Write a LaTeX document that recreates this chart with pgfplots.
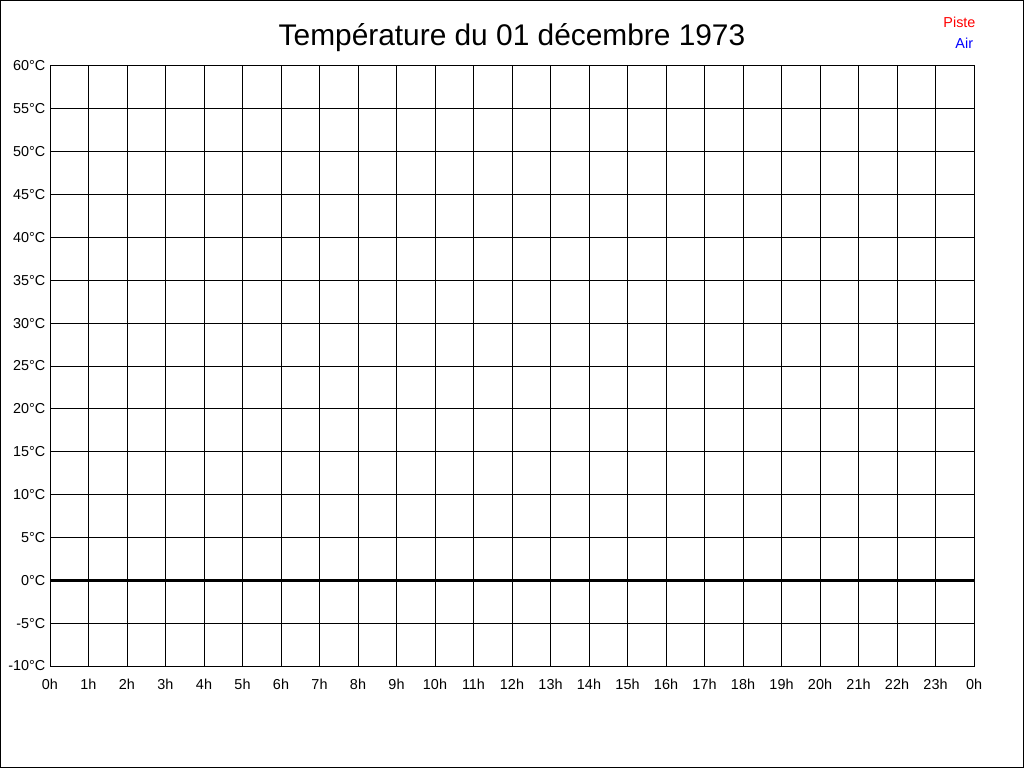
\documentclass[border=0pt]{standalone}
\usepackage{pgfplots}
\pgfplotsset{compat=1.18}
\usepackage{fontspec}
\setmainfont{Liberation Sans}
\begin{document}
\begin{tikzpicture}
\fill[white] (0,0) rectangle (768pt,576pt);
\draw[line width=0.75pt] (0.375pt,0.375pt) rectangle (767.625pt,575.625pt);
\begin{axis}[
  scale only axis,
  width=693pt, height=450pt,
  at={(37.5pt,76.5pt)}, anchor=south west,
  xmin=0, xmax=24, ymin=-10, ymax=60,
  xtick={0,1,...,24},
  xticklabels={0h,1h,2h,3h,4h,5h,6h,7h,8h,9h,10h,11h,12h,13h,14h,15h,16h,17h,18h,19h,20h,21h,22h,23h,0h},
  ytick={-10,-5,...,60},
  yticklabels={-10°C,-5°C,0°C,5°C,10°C,15°C,20°C,25°C,30°C,35°C,40°C,45°C,50°C,55°C,60°C},
  major tick length=0pt,
  grid=major,
  major grid style={black, line width=0.75pt},
  axis line style={black, line width=0.75pt},
  tick label style={font=\fontsize{10.8pt}{12pt}\selectfont, black},
  xticklabel style={yshift=-6.5pt},
  /pgf/number format/assume math mode=true,
  clip=false,
]
\addplot[black, line width=2.25pt, no marks] coordinates {(0,0) (24,0)};
\end{axis}
\node[font=\fontsize{22.4pt}{26pt}\selectfont] at (384pt,547.5pt) {Température du 01 décembre 1973};
\node[anchor=east, text=red, font=\fontsize{10.8pt}{12pt}\selectfont, inner sep=0pt] at (731.8pt,559.5pt) {Piste};
\node[anchor=east, text=blue, font=\fontsize{10.8pt}{12pt}\selectfont, inner sep=0pt] at (730pt,543.75pt) {Air};
\end{tikzpicture}
\end{document}
